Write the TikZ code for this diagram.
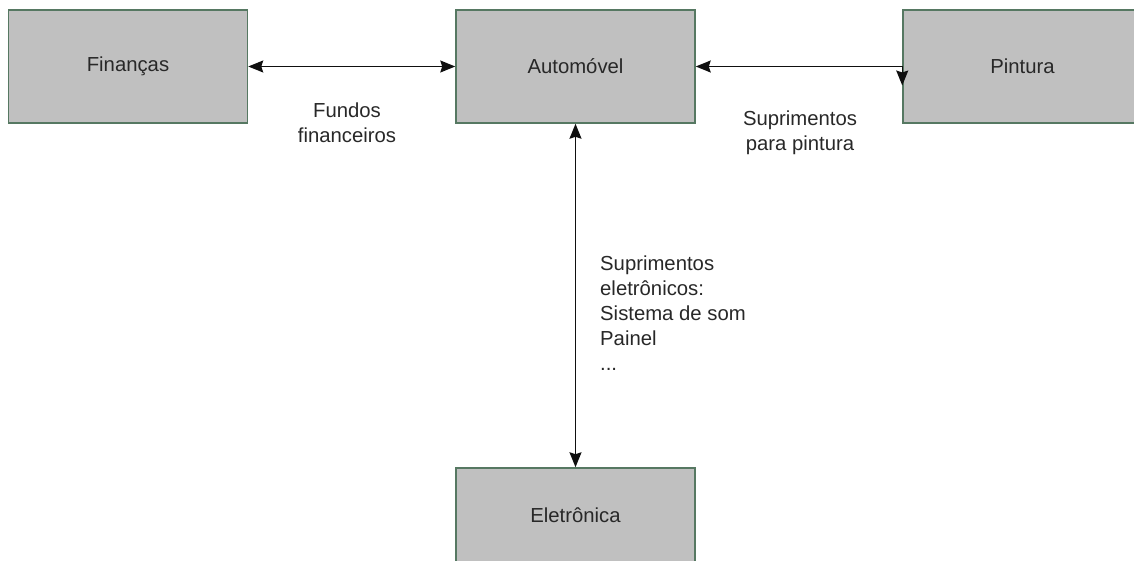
\documentclass[tikz,border=0pt]{standalone}
\usepackage{fontspec}
\setmainfont{Liberation Sans}
\usetikzlibrary{arrows.meta,calc}
\definecolor{boxfill}{RGB}{192,192,192}
\definecolor{boxline}{RGB}{86,120,98}
\definecolor{txt}{RGB}{40,40,40}
\definecolor{wire}{RGB}{15,15,15}
\tikzset{
  unit/.style={draw=boxline, line width=1.5pt, fill=boxfill, text=txt,
    minimum width=239pt, minimum height=113pt, inner sep=0pt,
    font=\fontsize{20.3}{25}\selectfont},
  lbl/.style={text=txt, inner sep=0pt, font=\fontsize{20.3}{25}\selectfont},
  link/.style={draw=wire, line width=1.4pt,
    {Stealth[length=15pt,width=12pt,inset=2pt]}-{Stealth[length=15pt,width=12pt,inset=2pt]}}
}
\begin{document}
\begin{tikzpicture}[x=1pt,y=-1pt]
  \useasboundingbox (0,0) rectangle (1134,561);
  \clip (0,0) rectangle (1134,561);
  \fill[white] (0,0) rectangle (1134,561);

  % departments
  \node[unit] (fin) at (128,66.5) {Finanças};
  \node[unit] (aut) at (575.5,66.5) {Automóvel};
  \node[unit] (pin) at (1022.5,66.5) {Pintura};
  \node[unit, minimum height=95pt] (ele) at (575.5,515.5) {Eletrônica};

  % flows between departments
  \draw[link] (fin.east) -- (aut.west);
  \draw[link] (aut.east) -- (pin.west) -- ($(pin.west)+(0,19)$);
  \draw[link] (aut.south) -- (ele.north);

  % flow labels
  \node[lbl, align=center, anchor=north] (lfin) at (347,102.5) {Fundos\\financeiros};
  \node[lbl, align=center, anchor=north] (lpin) at (800,110.5) {Suprimentos\\para pintura};
  \node[lbl, align=left, anchor=north west] (lele) at (600,255.5)
    {Suprimentos\\eletrônicos:\\Sistema de som\\Painel\\...};
\end{tikzpicture}
\end{document}
